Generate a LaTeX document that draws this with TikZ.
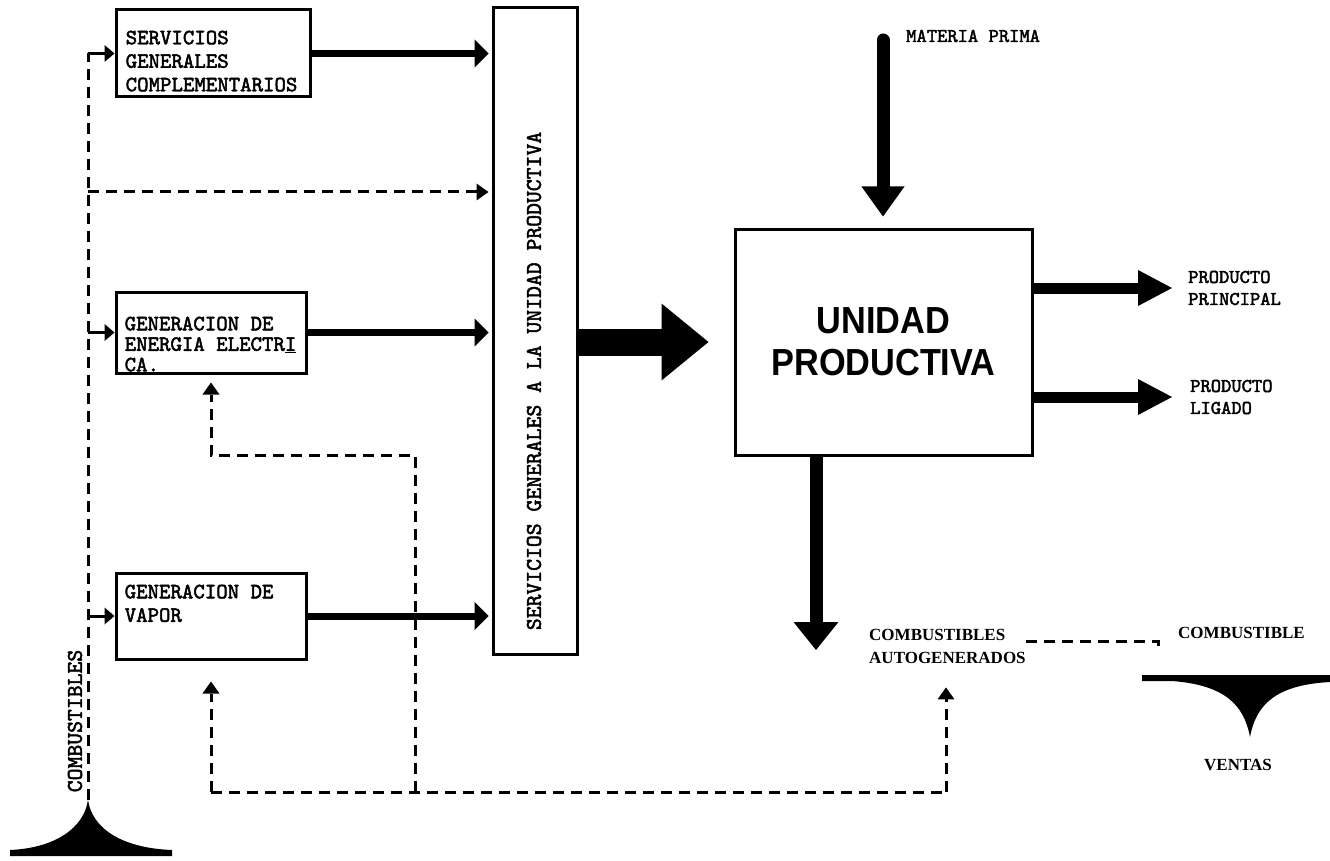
\documentclass[tikz,border=0pt]{standalone}
\usepackage{fontspec}
\usepackage{tikz}
\usetikzlibrary{arrows.meta,positioning}
\newfontfamily\typefont{lmmono10-regular.otf}[FakeBold=2.2]
\newfontfamily\slabfont{Liberation Serif}
\newfontfamily\blockfont{Liberation Sans}[FakeStretch=0.91]

\begin{document}
\begin{tikzpicture}[x=1pt, y=-1pt,
	block/.style={draw, line width=3pt, inner sep=0pt},
	typebox/.style={font=\typefont\fontsize{21.8}{23.5}\selectfont, align=left, inner sep=0pt},
	uptext/.style={font=\typefont\fontsize{22.6}{24}\selectfont, rotate=90, inner sep=0pt},
	sidetext/.style={font=\typefont\fontsize{19.6}{22}\selectfont, align=left, inner sep=0pt, anchor=west},
	slabtext/.style={font=\slabfont\bfseries\fontsize{17}{23}\selectfont, align=left, inner sep=0pt},
	flow/.style={line width=7pt, -{Triangle[length=14pt, width=28pt, line width=0pt]}},
	bigflow/.style={line width=27pt, -{Triangle[length=47pt, width=77pt, line width=0pt]}},
	rawflow/.style={line width=13pt, line cap=round, -{Triangle[length=30pt, width=43pt, line width=0pt]}},
	outflow/.style={line width=11pt, -{Triangle[length=34pt, width=36pt, line width=0pt]}},
	downflow/.style={line width=13pt, -{Triangle[length=28pt, width=45pt, line width=0pt]}},
	hook/.style={line width=3pt, -{Triangle[length=10pt, width=17pt, line width=0pt]}},
	fuel/.style={line width=3pt, dash pattern=on 11pt off 7pt},
	fuelarrow/.style={fuel, -{Triangle[length=12pt, width=17pt, line width=0pt]}}]

	\path[fill=white] (0,0) rectangle (1330,861);

	\node[block, minimum width=194pt, minimum height=87pt] (sgc) at (213,53.5) {};
	\node[block, minimum width=190pt, minimum height=81pt] (energia) at (211,332.5) {};
	\node[block, minimum width=190pt, minimum height=86pt] (vapor) at (211,616) {};
	\node[block, minimum width=84pt, minimum height=646pt] (serv) at (535,331) {};
	\node[block, minimum width=297pt, minimum height=226pt, align=center,
		font=\blockfont\bfseries\fontsize{37.7}{42}\selectfont] (unidad) at (883.5,342) {UNIDAD\\PRODUCTIVA};

	\node[typebox, below right=22pt and 11pt of sgc.north west] (sgctext) {SERVICIOS\\GENERALES\\COMPLEMENTARIOS};
	\node[typebox, font=\typefont\fontsize{21.8}{20.5}\selectfont, below right=26pt and 10pt of energia.north west] (energiatext) {GENERACION DE\\ENERGIA ELECTR\underline{I}\\CA.};
	\node[typebox, below right=13pt and 10pt of vapor.north west] (vaportext) {GENERACION DE\\VAPOR};
	\node[uptext] (servtext) at (534,381) {SERVICIOS GENERALES A LA UNIDAD PRODUCTIVA};
	\node[uptext] (fueltext) at (75,721) {COMBUSTIBLES};

	\node[sidetext] (rawtext) at (906,36) {MATERIA PRIMA};
	\node[sidetext] (principal) at (1188,288) {PRODUCTO\\PRINCIPAL};
	\node[sidetext] (ligado) at (1190,397) {PRODUCTO\\LIGADO};
	\node[slabtext, anchor=west] (autogen) at (869,646) {COMBUSTIBLES\\AUTOGENERADOS};
	\node[slabtext, anchor=west] (sold) at (1178,633) {COMBUSTIBLE};
	\node[slabtext] (ventas) at (1238,765) {VENTAS};

	\coordinate (rawtop) at (883,40);
	\coordinate (downtip) at (816,650);
	\coordinate (fuelpeak) at (88,800);
	\coordinate (tapserv) at (88,192);
	\coordinate (dropA) at (211,792);
	\coordinate (dropB) at (946,792);
	\coordinate (tee) at (415,792);
	\coordinate (elbow) at (211,455);
	\coordinate (combend) at (1158,641);
	\coordinate (combtick) at (1158,651);

	\draw[flow, shorten >=3pt] (sgc.east) -- (sgc.east -| serv.west);
	\draw[flow, shorten >=3pt] (energia.east) -- (energia.east -| serv.west);
	\draw[flow, shorten >=3pt] (vapor.east) -- (vapor.east -| serv.west);
	\draw[bigflow, shorten >=25pt] (serv.east |- unidad.west) -- (unidad.west);
	\draw[rawflow, shorten >=11pt] (rawtop) -- (rawtop |- unidad.north);
	\draw[outflow, shorten >=16pt] (unidad.east |- principal.west) -- (principal.west);
	\draw[outflow, shorten >=18pt] (unidad.east |- ligado.west) -- (ligado.west);
	\draw[downflow] (unidad.south -| downtip) -- (downtip);

	\draw[fuel] (fuelpeak) -- (fuelpeak |- sgc.west);
	\draw[hook] (fuelpeak |- sgc.west) -- (sgc.west);
	\draw[hook] (fuelpeak |- energia.west) -- (energia.west);
	\draw[hook] (fuelpeak |- vapor.west) -- (vapor.west);
	\draw[fuelarrow, shorten >=3pt] (tapserv) -- (tapserv -| serv.west);
	\draw[fuel] (dropA) -- (dropB);
	\draw[fuelarrow, shorten >=21pt] (dropA) -- (vapor.south);
	\draw[fuelarrow, shorten >=8pt] (tee) |- (elbow) -- (energia.south);
	\draw[fuelarrow, shorten >=24pt] (dropB) -- (dropB |- autogen.south);
	\draw[fuel] (autogen.east |- combend) -- (combend) -- (combtick);

	\fill (10,850) .. controls (55,848) and (84,828) .. (fuelpeak) .. controls (92,828) and (121,848) .. (172,850) -- (172,856) -- (10,856) -- cycle;
	\fill (1142,675) -- (1330,675) -- (1330,682) .. controls (1275,685) and (1256,705) .. (1250,737) .. controls (1244,705) and (1225,685) .. (1172,681) -- (1142,681) -- cycle;
\end{tikzpicture}
\end{document}
